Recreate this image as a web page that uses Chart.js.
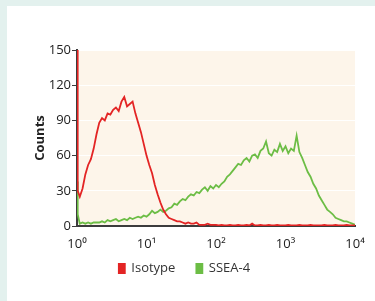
<!DOCTYPE html>
<html>
<head>
<meta charset="utf-8">
<script src="https://cdn.jsdelivr.net/npm/chart.js@4.4.0/dist/chart.umd.min.js"></script>
<style>
    html, body { margin: 0; padding: 0; }
    body { width: 375px; height: 301px; background: #e3f1ee; position: relative; overflow: hidden; }
    #panel { position: absolute; left: 7px; top: 6px; right: 0; bottom: 0; background: #ffffff; }
    #wrap { position: absolute; left: 0; top: 0; width: 375px; height: 301px; }
</style>
</head>
<body>
<div id="panel"></div>
<div id="wrap"><canvas id="histChart"></canvas></div>
<script>
// channel position, in decades (0 = 10^0, 4 = 10^4)
const decades = [
    0, 0.01, 0.04, 0.08, 0.12, 0.16, 0.20, 0.24, 0.28, 0.32, 0.36, 0.40,
    0.44, 0.48, 0.52, 0.56, 0.60, 0.64, 0.68, 0.72, 0.76, 0.80,
    0.84, 0.88, 0.92, 0.96, 1.00, 1.04, 1.08, 1.12, 1.16, 1.20,
    1.24, 1.28, 1.32, 1.36, 1.40, 1.44, 1.48, 1.52, 1.56, 1.60,
    1.64, 1.68, 1.72, 1.76, 1.80, 1.84, 1.88, 1.92, 1.96, 2.00,
    2.04, 2.08, 2.12, 2.16, 2.20, 2.24, 2.28, 2.32, 2.36, 2.40,
    2.44, 2.48, 2.52, 2.56, 2.60, 2.64, 2.68, 2.72, 2.76, 2.80,
    2.84, 2.88, 2.92, 2.96, 3.00, 3.04, 3.08, 3.12, 3.16, 3.20,
    3.24, 3.28, 3.32, 3.36, 3.40, 3.44, 3.48, 3.52, 3.56, 3.60,
    3.64, 3.68, 3.72, 3.76, 3.80, 3.84, 3.88, 3.92, 3.96, 4.00
];

const isotypeCounts = [
    150, 30, 25, 32, 44, 52, 57, 66, 78, 88, 92, 90,
    96, 95, 99, 101, 98, 106, 110, 102, 104, 106,
    96, 88, 80, 70, 60, 52, 45, 35, 27, 20,
    14, 10, 7, 6, 5, 4, 4, 3, 2, 3,
    2, 2, 3, 1, 1, 1, 2, 1, 1, 1,
    0.5, 1, 0.5, 0.5, 1, 0.5, 0.5, 1, 0.5, 0.5,
    1, 0.5, 2, 0.5, 0.5, 1, 0.5, 0.5, 1, 0.5,
    0.5, 1, 0.5, 0.5, 0.5, 1, 0.5, 0.5, 0.5, 1,
    0.5, 0.5, 0.5, 1, 0.5, 0.5, 0.5, 0.5, 1, 0.5,
    0.5, 0.5, 1, 0.5, 0.5, 0.5, 1, 0.5, 0.5, 0.5
];

const ssea4Counts = [
    38, 10, 2, 3, 2, 3, 2, 3, 3, 3, 4, 3,
    5, 4, 5, 6, 4, 5, 6, 5, 7, 6,
    7, 8, 7, 9, 8, 10, 13, 11, 12, 14,
    12, 13, 15, 16, 19, 18, 21, 23, 22, 25,
    27, 26, 29, 28, 31, 33, 30, 34, 32, 35,
    33, 36, 38, 42, 44, 47, 50, 53, 52, 56,
    58, 55, 60, 61, 58, 64, 66, 72, 62, 60,
    65, 63, 70, 64, 68, 62, 66, 64, 77, 63,
    58, 52, 46, 42, 36, 32, 26, 22, 18, 14,
    12, 10, 7, 6, 5, 4, 4, 3, 2, 1
];

const xTickLabels = ['10\u2070', '10\u00B9', '10\u00B2', '10\u00B3', '10\u2074'];
const yTicks = [0, 30, 60, 90, 120, 150];

const RED = '#e32424';
const GREEN = '#6cbd45';

// fills the plot area with the cream colour before the grid is drawn
const plotBackground = {
    id: 'plotBackground',
    beforeDraw(chart) {
        const { ctx, chartArea } = chart;
        ctx.save();
        ctx.fillStyle = '#fdf5ea';
        ctx.fillRect(chartArea.left, chartArea.top, chartArea.width, chartArea.height);
        ctx.restore();
    }
};

// pulls the legend a little closer to the x axis and left of centre
const legendNudge = {
    id: 'legendNudge',
    afterLayout(chart) {
        const lg = chart.legend;
        if (!lg) return;
        lg.top -= 11;
        lg.bottom -= 11;
        lg.left -= 3;
        lg.right -= 3;
    }
};

function toPoints(values) {
    return decades.map((d, i) => ({ x: d, y: values[i] }));
}

const ctx = document.getElementById('histChart').getContext('2d');

new Chart(ctx, {
    type: 'line',
    data: {
        datasets: [{
            label: 'Isotype',
            data: toPoints(isotypeCounts),
            borderColor: RED,
            backgroundColor: RED,
            borderWidth: 1.8,
            pointRadius: 0,
            tension: 0,
        }, {
            label: 'SSEA-4',
            data: toPoints(ssea4Counts),
            borderColor: GREEN,
            backgroundColor: GREEN,
            borderWidth: 1.8,
            pointRadius: 0,
            tension: 0,
        }]
    },
    options: {
        responsive: true,
        maintainAspectRatio: false,
        animation: false,
        layout: {
            padding: { left: 20, right: 20, top: 50, bottom: 14 }
        },
        plugins: {
            legend: {
                position: 'bottom',
                maxHeight: 35,
                labels: {
                    boxWidth: 6,
                    boxHeight: 9,
                    padding: 21,
                    color: '#333',
                    font: { family: 'Open Sans', size: 13 }
                }
            },
            tooltip: { enabled: false }
        },
        scales: {
            x: {
                type: 'linear',
                min: 0,
                max: 4,
                afterBuildTicks: (scale) => {
                    scale.ticks = xTickLabels.map((_, i) => ({ value: i }));
                },
                afterFit: (scale) => { scale.height = 26; },
                ticks: {
                    color: '#222',
                    font: { family: 'Open Sans', size: 13 },
                    padding: 2,
                    callback: (value) => xTickLabels[value]
                },
                grid: { display: false },
                border: { display: true, color: '#3c3c3c', width: 2 }
            },
            y: {
                min: 0,
                max: 150,
                afterBuildTicks: (scale) => {
                    scale.ticks = yTicks.map(v => ({ value: v }));
                },
                afterFit: (scale) => { scale.width = 57; },
                ticks: {
                    color: '#222',
                    font: { family: 'Open Sans', size: 13 },
                    padding: 1
                },
                grid: {
                    color: 'rgba(255,255,255,0.95)',
                    lineWidth: 1,
                    tickLength: 5,
                    tickColor: '#3c3c3c'
                },
                border: { display: true, color: '#3c3c3c', width: 2 },
                title: {
                    display: true,
                    text: 'Counts',
                    color: '#222',
                    font: { family: 'Open Sans', size: 13, weight: 'bold' },
                    padding: { top: 12, bottom: 0 }
                }
            }
        }
    },
    plugins: [plotBackground, legendNudge]
});
</script>
</body>
</html>
